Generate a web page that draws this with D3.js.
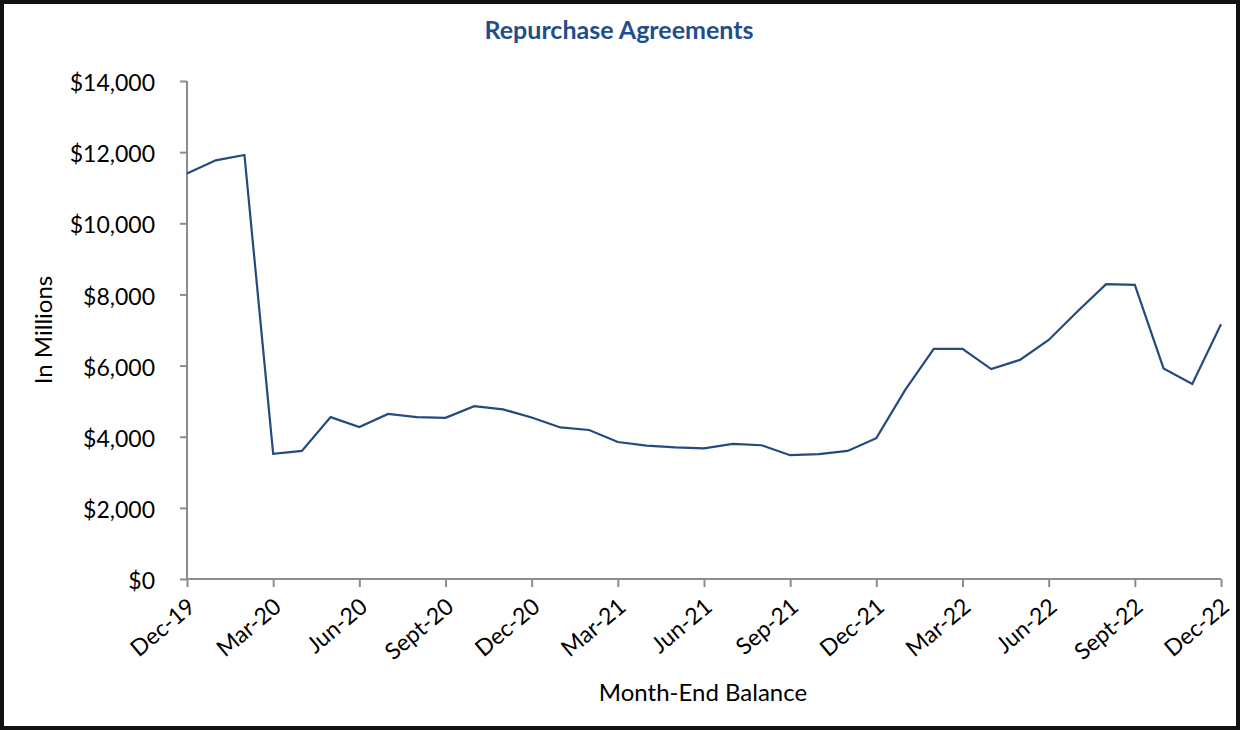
<!DOCTYPE html>
<html>
<head>
<meta charset="utf-8">
<script src="https://cdn.jsdelivr.net/npm/d3@7"></script>
<style>
  html, body { margin: 0; padding: 0; background: #fff; }
  svg { display: block; }
  text { font-family: Lato, "Open Sans", sans-serif; }
</style>
</head>
<body>
<svg id="chart" width="1240" height="730"></svg>
<script>
// ---- data ----
const months = [
  "Dec-19","Jan-20","Feb-20","Mar-20","Apr-20","May-20","Jun-20","Jul-20","Aug-20",
  "Sept-20","Oct-20","Nov-20","Dec-20","Jan-21","Feb-21","Mar-21","Apr-21","May-21",
  "Jun-21","Jul-21","Aug-21","Sep-21","Oct-21","Nov-21","Dec-21","Jan-22","Feb-22",
  "Mar-22","Apr-22","May-22","Jun-22","Jul-22","Aug-22","Sept-22","Oct-22","Nov-22","Dec-22"
];
const balances = [
  11400, 11770, 11920, 3520, 3600, 4550, 4270, 4640, 4550,
  4530, 4860, 4770, 4540, 4260, 4190, 3850, 3750, 3700,
  3670, 3800, 3760, 3480, 3510, 3600, 3960, 5310, 6470,
  6470, 5900, 6160, 6720, 7520, 8290, 8270, 5920, 5480, 7160
];
const xTickLabels = ["Dec-19","Mar-20","Jun-20","Sept-20","Dec-20","Mar-21","Jun-21","Sep-21","Dec-21","Mar-22","Jun-22","Sept-22","Dec-22"];
const yTicks = [0, 2000, 4000, 6000, 8000, 10000, 12000, 14000];
const titleText = "Repurchase Agreements";
const xTitle = "Month-End Balance";
const yTitle = "In Millions";

// ---- layout ----
const svg = d3.select("#chart");
const W = 1240, H = 730;
const mLeft = 187, mRight = 1221, mTop = 81, mBottom = 579;
const axisColor = "#8c8c8c";

svg.append("rect").attr("x", 2).attr("y", 2).attr("width", W - 4).attr("height", H - 4)
  .attr("fill", "#fff").attr("stroke", "#111").attr("stroke-width", 4);

const x = d3.scaleLinear().domain([0, months.length - 1]).range([mLeft, mRight]);
const y = d3.scaleLinear().domain([0, 14000]).range([mBottom, mTop]);

// title
svg.append("text").attr("x", 619).attr("y", 39).attr("text-anchor", "middle")
  .attr("font-size", 25).attr("font-weight", 700).attr("fill", "#1F4E8C").text(titleText);

// y axis
const yAxis = svg.append("g").attr("transform", `translate(${mLeft},0)`)
  .call(d3.axisLeft(y).tickValues(yTicks).tickSize(7).tickPadding(25)
    .tickFormat(d => "$" + d3.format(",")(d)));
yAxis.select(".domain").attr("stroke", axisColor).attr("stroke-width", 2).attr("d", `M0,${mTop}V${mBottom}`);
yAxis.selectAll(".tick line").attr("stroke", axisColor).attr("stroke-width", 2);
yAxis.selectAll(".tick text").attr("font-size", 23).attr("fill", "#000")
  .attr("font-family", "Lato, sans-serif").attr("dy", "0.42em");

// x axis
const tickIdx = xTickLabels.map(l => months.indexOf(l));
const xAxis = svg.append("g").attr("transform", `translate(0,${mBottom})`)
  .call(d3.axisBottom(x).tickValues(tickIdx).tickSize(8).tickFormat(i => months[i]));
xAxis.select(".domain").attr("stroke", axisColor).attr("stroke-width", 2).attr("d", `M${mLeft},0H${mRight}`);
xAxis.selectAll(".tick line").attr("stroke", axisColor).attr("stroke-width", 2);
xAxis.selectAll(".tick text").attr("font-size", 23).attr("fill", "#000")
  .attr("font-family", "Lato, sans-serif")
  .attr("text-anchor", "end").attr("dy", "0.35em")
  .attr("transform", "translate(4,24) rotate(-40)").attr("x", 0).attr("y", 0);

// line
const line = d3.line().x((d, i) => x(i)).y(d => y(d));
svg.append("path").datum(balances).attr("d", line)
  .attr("fill", "none").attr("stroke", "#244A80").attr("stroke-width", 2.2)
  .attr("stroke-linejoin", "miter");

// axis titles
svg.append("text").attr("x", 703).attr("y", 701).attr("text-anchor", "middle")
  .attr("font-size", 24).attr("fill", "#000").text(xTitle);
svg.append("text").attr("transform", "translate(52,330) rotate(-90)").attr("text-anchor", "middle")
  .attr("font-size", 24).attr("fill", "#000").text(yTitle);
</script>
</body>
</html>
